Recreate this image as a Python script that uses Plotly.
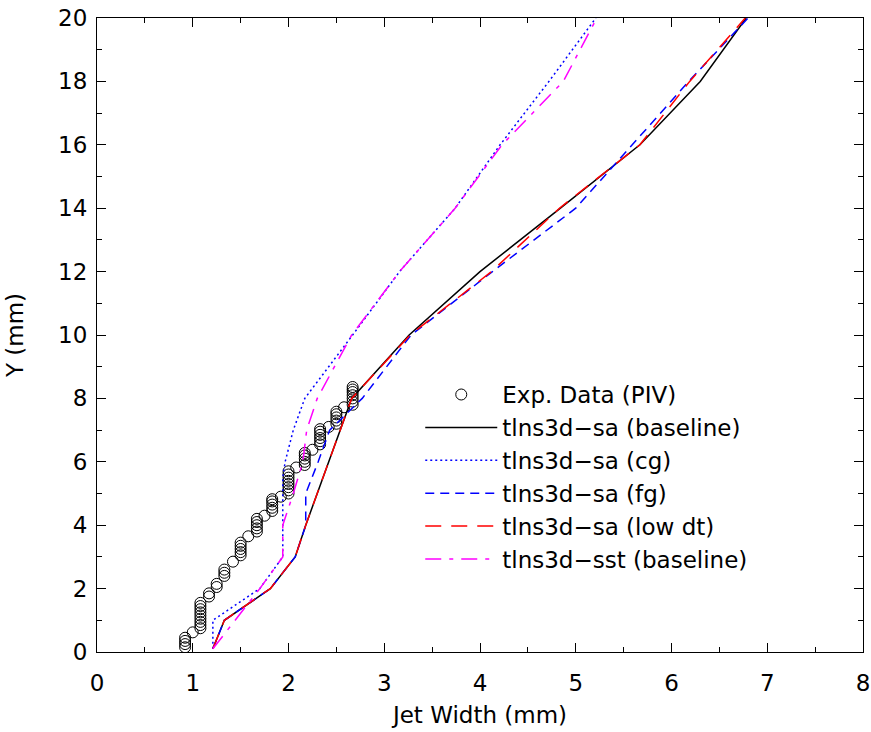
import plotly.graph_objects as go

# Experimental data (PIV): circle centres, column by column
exp_x = ([0.92]*4 + [1.00] + [1.08]*9 + [1.17]*2 + [1.25]*2 + [1.33]*3 + [1.42] +
         [1.50]*5 + [1.58] + [1.67]*5 + [1.75] + [1.83]*5 + [1.92] + [2.00]*8 +
         [2.08] + [2.17]*5 + [2.25] + [2.33]*6 + [2.42] + [2.50]*5 + [2.58] + [2.67]*7)
exp_y = ([0.15, 0.25, 0.35, 0.45] + [0.62] +
         [0.75, 0.85, 0.95, 1.05, 1.15, 1.25, 1.35, 1.45, 1.55] +
         [1.75, 1.85] + [2.05, 2.15] + [2.40, 2.50, 2.60] + [2.85] +
         [3.05, 3.15, 3.25, 3.35, 3.45] + [3.65] +
         [3.80, 3.90, 4.00, 4.10, 4.20] + [4.30] +
         [4.45, 4.55, 4.65, 4.75, 4.82] + [4.90] +
         [5.00, 5.10, 5.20, 5.30, 5.40, 5.50, 5.60, 5.70] + [5.82] +
         [5.90, 6.00, 6.10, 6.20, 6.28] + [6.38] +
         [6.55, 6.65, 6.75, 6.85, 6.95, 7.03] + [7.10] +
         [7.20, 7.30, 7.40, 7.50, 7.58] + [7.72] +
         [7.80, 7.90, 8.00, 8.10, 8.20, 8.28, 8.36])

base_x = [1.21, 1.33, 1.81, 2.07, 2.18, 2.42, 2.54, 2.66, 3.26, 4.00, 4.84, 5.67, 6.30, 6.78]
base_y = [0.1, 1, 2, 3, 4, 6, 7, 8, 10, 12, 14, 16, 18, 20]

cg_x = [1.21, 1.21, 1.70, 1.94, 1.94, 1.965, 2.05, 2.17, 2.67, 3.16, 3.74, 4.21, 4.72, 5.21]
cg_y = [0.1, 1, 2, 3, 5.5, 6, 7, 8, 10, 12, 14, 16, 18, 20]

fg_x = [1.21, 1.33, 1.81, 2.07, 2.18, 2.18, 2.31, 2.43, 2.77, 3.28, 4.13, 5.00, 5.59, 6.18, 6.80]
fg_y = [0.1, 1, 2, 3, 4, 5, 6, 7, 8, 10, 12, 14, 16, 18, 20]

lowdt_x = [1.21, 1.33, 1.81, 2.07, 2.18, 2.42, 2.54, 2.66, 3.27, 4.12, 4.83, 5.67, 6.19, 6.77]
lowdt_y = [0.1, 1, 2, 3, 4, 6, 7, 8, 10, 12, 14, 16, 18, 20]

sst_x = [1.21, 1.70, 1.94, 1.94, 2.05, 2.15, 2.19, 2.30, 2.66, 3.16, 3.74, 4.23, 4.87, 5.22]
sst_y = [0.1, 2, 3, 4, 5, 6, 7, 8, 10, 12, 14, 16, 18, 20]

x_ticks = [0, 1, 2, 3, 4, 5, 6, 7, 8]
y_ticks = [0, 2, 4, 6, 8, 10, 12, 14, 16, 18, 20]

FONT = "DejaVu Sans"
FS = 23

fig = go.Figure()
fig.add_trace(go.Scatter(x=exp_x, y=exp_y, mode="markers", name="Exp. Data (PIV)",
                         marker=dict(symbol="circle-open", size=11, color="black",
                                     line=dict(width=1, color="black"))))
fig.add_trace(go.Scatter(x=base_x, y=base_y, mode="lines", name="tlns3d\u2212sa (baseline)",
                         line=dict(color="black", width=1.5)))
fig.add_trace(go.Scatter(x=cg_x, y=cg_y, mode="lines", name="tlns3d\u2212sa (cg)",
                         line=dict(color="#0000ff", width=1.5, dash="2px,3px")))
fig.add_trace(go.Scatter(x=fg_x, y=fg_y, mode="lines", name="tlns3d\u2212sa (fg)",
                         line=dict(color="#0000ff", width=1.5, dash="9px,6px")))
fig.add_trace(go.Scatter(x=lowdt_x, y=lowdt_y, mode="lines", name="tlns3d\u2212sa (low dt)",
                         line=dict(color="#ff0000", width=1.5, dash="16px,10px")))
fig.add_trace(go.Scatter(x=sst_x, y=sst_y, mode="lines", name="tlns3d\u2212sst (baseline)",
                         line=dict(color="#ff00ff", width=1.5, dash="16px,8px,4px,8px")))

axis_common = dict(showgrid=False, zeroline=False, showline=True, linecolor="black",
                   linewidth=1, mirror="allticks", ticks="inside", ticklen=9,
                   tickwidth=1, tickcolor="black", automargin=False,
                   ticklabeloverflow="allow",
                   tickfont=dict(family=FONT, size=FS, color="black"))

fig.update_xaxes(range=[0, 8], tickvals=x_ticks, ticktext=[str(v) for v in x_ticks],
                 minor=dict(dtick=0.5, ticks="inside", ticklen=5, tickcolor="black"),
                 title=dict(text="Jet Width (mm)", font=dict(family=FONT, size=FS, color="black"),
                            standoff=12),
                 ticklabelstandoff=10, **axis_common)
fig.update_yaxes(range=[0, 20], tickvals=y_ticks, ticktext=[str(v) for v in y_ticks],
                 minor=dict(dtick=1, ticks="inside", ticklen=5, tickcolor="black"),
                 title=dict(text="Y (mm)", font=dict(family=FONT, size=FS, color="black"),
                            standoff=28),
                 ticklabelstandoff=4, **axis_common)

fig.update_layout(
    width=871, height=732,
    margin=dict(l=97, r=8, t=18, b=80),
    paper_bgcolor="white", plot_bgcolor="white",
    font=dict(family=FONT, size=FS, color="black"),
    legend=dict(x=0.422, y=0.44, xanchor="left", yanchor="top",
                bgcolor="rgba(0,0,0,0)", borderwidth=0,
                font=dict(family=FONT, size=FS, color="black"),
                itemwidth=72, tracegroupgap=0),
    showlegend=True,
)

# remove the browser's default 8px page margin so the figure fills the window
fig.write_html("out.html", config={"displayModeBar": False},
               post_script="document.body.style.margin='0';")
